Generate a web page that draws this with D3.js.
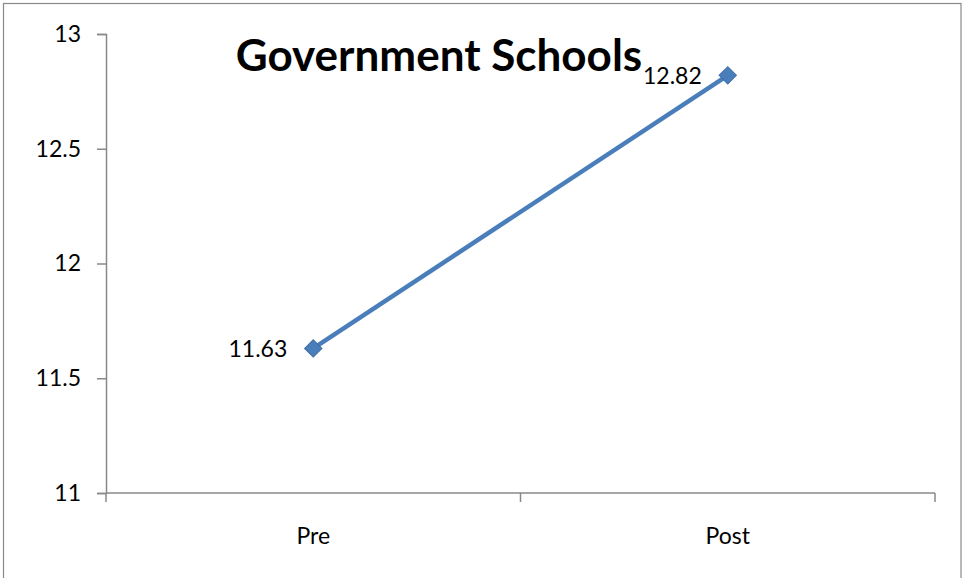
<!DOCTYPE html>
<html>
<head>
<meta charset="utf-8">
<script src="https://cdn.jsdelivr.net/npm/d3@7/dist/d3.min.js"></script>
<style>
  html, body { margin: 0; padding: 0; background: #fff; }
  svg { display: block; }
  text { font-family: Lato, "Open Sans", "Liberation Sans", sans-serif; fill: #000; }
</style>
</head>
<body>
<svg id="chart" width="964" height="578"></svg>
<script>
// Mean scores before and after, government schools
const categories = ["Pre", "Post"];
const scores = [11.63, 12.82];
const yTicks = [11, 11.5, 12, 12.5, 13];
const chartTitle = "Government Schools";

const svg = d3.select("#chart");
const W = 964, H = 578;
const plot = { left: 106, right: 935, top: 34, bottom: 493 };
const labelSize = "23px";

// outer chart frame
svg.append("rect")
  .attr("x", 3.5).attr("y", 3.5)
  .attr("width", W - 6.5).attr("height", H + 10)
  .attr("fill", "#fff").attr("stroke", "#898989").attr("stroke-width", 1.2);

const x = d3.scaleBand().domain(categories).range([plot.left, plot.right]);
const y = d3.scaleLinear().domain([11, 13]).range([plot.bottom, plot.top]);

// y axis
const yAxis = d3.axisLeft(y).tickValues(yTicks).tickSize(9).tickPadding(16)
  .tickFormat(d => d3.format("")(d));
const gy = svg.append("g").attr("transform", `translate(${plot.left},0)`).call(yAxis);
gy.select(".domain").attr("stroke", "#898989").attr("stroke-width", 1.5);
gy.selectAll(".tick line").attr("stroke", "#898989").attr("stroke-width", 1.5);
gy.selectAll(".tick text").style("font-size", labelSize).attr("fill", "#000");

// x axis with tick marks at band boundaries
const gx = svg.append("g").attr("transform", `translate(0,${plot.bottom})`);
gx.append("line")
  .attr("x1", plot.left).attr("x2", plot.right)
  .attr("stroke", "#898989").attr("stroke-width", 1.5);
const bounds = categories.map(c => x(c)).concat([x(categories[categories.length - 1]) + x.bandwidth()]);
gx.selectAll("line.tk").data(bounds).join("line").attr("class", "tk")
  .attr("x1", d => d).attr("x2", d => d).attr("y1", 0).attr("y2", 9)
  .attr("stroke", "#898989").attr("stroke-width", 1.5);
gx.selectAll("text.cat").data(categories).join("text").attr("class", "cat")
  .attr("x", d => x(d) + x.bandwidth() / 2).attr("y", 51)
  .attr("text-anchor", "middle").style("font-size", labelSize)
  .text(d => d);

// series line
const pts = categories.map((c, i) => ({ c, v: scores[i] }));
const line = d3.line().x(d => x(d.c) + x.bandwidth() / 2).y(d => y(d.v));
svg.append("path").datum(pts)
  .attr("d", line).attr("fill", "none")
  .attr("stroke", "#4a7ebb").attr("stroke-width", 4.5);

// diamond markers
const diamond = d3.symbol().type(d3.symbolSquare).size(150);
svg.selectAll("path.mk").data(pts).join("path").attr("class", "mk")
  .attr("d", diamond)
  .attr("transform", d => `translate(${x(d.c) + x.bandwidth() / 2},${y(d.v)}) rotate(45)`)
  .attr("fill", "#4a7ebb").attr("stroke", "#3f6fa8").attr("stroke-width", 1);

// value labels left of each point
svg.selectAll("text.val").data(pts).join("text").attr("class", "val")
  .attr("x", d => x(d.c) + x.bandwidth() / 2 - 26)
  .attr("y", d => y(d.v) + 9)
  .attr("text-anchor", "end").style("font-size", labelSize)
  .text(d => d.v.toFixed(2));

// title
svg.append("text")
  .attr("x", 439).attr("y", 71)
  .attr("text-anchor", "middle")
  .style("font-size", "44px").style("font-weight", "bold")
  .text(chartTitle);
</script>
</body>
</html>
